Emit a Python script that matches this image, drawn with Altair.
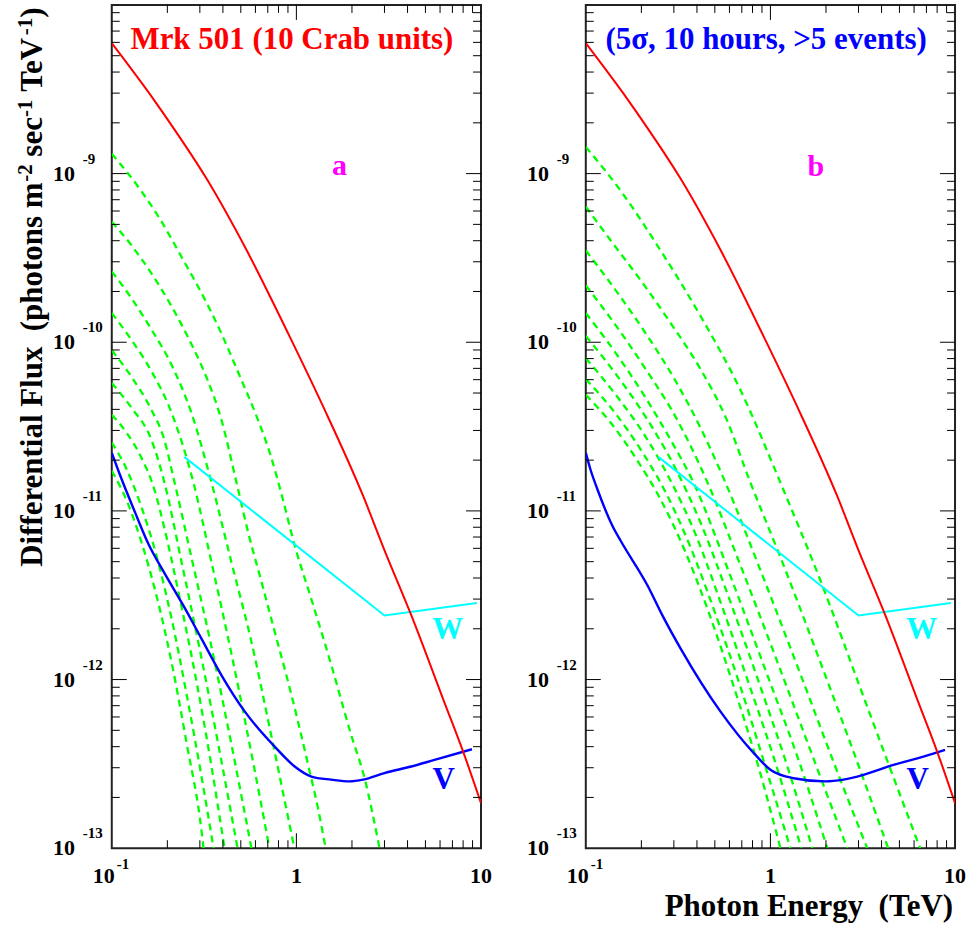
import altair as alt
import pandas as pd

FONT = "Liberation Serif"
W, H = 370, 845

# ---------------- data ----------------
red_E = [0.1, 0.171, 0.2065, 0.3266, 0.537, 0.92, 1.393, 2.296, 2.99, 4.19, 6.31, 8.0, 10]
red_F = [5.93e-9, 2.69e-9, 2.0e-9, 9.31e-10, 3.52e-10, 1.08e-10, 4.18e-11, 1.23e-11,
         5.9e-12, 2.41e-12, 7.4e-13, 3.74e-13, 1.85e-13]

cyan_E = [0.247, 3.0, 9.5]
cyan_F = [2.09e-11, 2.4e-12, 2.84e-12]

blue_a_E = [0.1, 0.1095, 0.1337, 0.158, 0.194, 0.244, 0.306, 0.393, 0.526, 0.763, 0.979,
            1.205, 1.546, 1.94, 2.30, 3.0, 4.19, 5.6, 8.93]
blue_a_F = [2.21e-11, 1.69e-11, 9.8e-12, 6.36e-12, 4.23e-12, 2.75e-12, 1.75e-12, 1.06e-12,
            6.45e-13, 4.0e-13, 3.05e-13, 2.66e-13, 2.55e-13, 2.49e-13, 2.55e-13, 2.79e-13,
            3.05e-13, 3.34e-13, 3.86e-13]

blue_b_E = [0.1, 0.106, 0.1157, 0.1393, 0.1545, 0.216, 0.26, 0.327, 0.537, 0.813,
            1.0, 1.336, 1.98, 2.49, 3.19, 4.64, 6.74, 8.83]
blue_b_F = [2.21e-11, 1.76e-11, 1.34e-11, 8.17e-12, 6.65e-12, 3.61e-12, 2.4e-12, 1.52e-12,
            6.45e-13, 3.66e-13, 2.92e-13, 2.6e-13, 2.49e-13, 2.55e-13, 2.72e-13,
            3.12e-13, 3.49e-13, 3.83e-13]

green_a_E = [
    [0.1, 0.142, 0.182, 0.244, 0.313, 0.385, 0.494, 0.608, 0.718, 0.83, 0.98, 1.205, 1.545, 1.98, 2.34, 2.82],
    [0.1, 0.128, 0.164, 0.211, 0.270, 0.327, 0.394, 0.474, 0.548, 0.648, 0.764, 0.902, 1.021, 1.157, 1.31, 1.44],
    [0.1, 0.128, 0.164, 0.211, 0.270, 0.347, 0.445, 0.571, 0.733, 0.975],
    [0.1, 0.128, 0.164, 0.211, 0.277, 0.347, 0.445, 0.571, 0.715],
    [0.1, 0.128, 0.164, 0.191, 0.219, 0.270, 0.347, 0.445, 0.571],
    [0.1, 0.128, 0.164, 0.193, 0.239, 0.307, 0.393, 0.480],
    [0.1, 0.1205, 0.145, 0.169, 0.198, 0.239, 0.288, 0.347, 0.408],
    [0.1, 0.1205, 0.145, 0.175, 0.211, 0.254, 0.307, 0.356],
    [0.1, 0.1205, 0.145, 0.175, 0.211, 0.254, 0.307, 0.314],
]
green_a_F = [
    [1.31e-9, 8.1e-10, 5.4e-10, 3.07e-10, 1.87e-10, 1.18e-10, 6.28e-11, 3.65e-11, 2.21e-11, 1.26e-11,
     6.22e-12, 3.0e-12, 1.22e-12, 4.7e-13, 2.6e-13, 1e-13],
    [5.19e-10, 3.75e-10, 2.56e-10, 1.63e-10, 9.75e-11, 6.14e-11, 3.42e-11, 1.47e-11, 7.45e-12, 3.78e-12,
     1.91e-12, 9.68e-13, 5.62e-13, 3.13e-13, 1.72e-13, 1e-13],
    [2.63e-10, 1.82e-10, 1.19e-10, 7.33e-11, 3.81e-11, 1.47e-11, 4.95e-12, 1.67e-12, 4.59e-13, 1e-13],
    [1.49e-10, 1.03e-10, 6.74e-11, 3.81e-11, 1.47e-11, 4.95e-12, 1.42e-12, 3.64e-13, 1e-13],
    [8.97e-11, 6.22e-11, 3.97e-11, 2.72e-11, 1.47e-11, 5.31e-12, 1.56e-12, 4.11e-13, 1e-13],
    [5.73e-11, 4.08e-11, 2.64e-11, 1.47e-11, 4.95e-12, 1.32e-12, 3.27e-13, 1e-13],
    [3.71e-11, 2.90e-11, 2.06e-11, 1.37e-11, 6.97e-12, 2.68e-12, 9.68e-13, 3.05e-13, 1e-13],
    [2.54e-11, 1.76e-11, 1.05e-11, 5.38e-12, 2.29e-12, 8.23e-13, 2.62e-13, 1e-13],
    [1.73e-11, 1.15e-11, 6.5e-12, 3.12e-12, 1.26e-12, 4.23e-13, 1.24e-13, 1e-13],
]

green_b_E = [
    [0.1, 0.1546, 0.2542, 0.4182, 0.688, 1.133, 1.864, 3.066, 4.454, 6.47],
    [0.1, 0.1365, 0.1983, 0.288, 0.4182, 0.571, 0.7796, 1.133, 1.864, 2.881, 4.343],
    [0.1, 0.1453, 0.211, 0.3065, 0.4182, 0.571, 0.8829, 1.453, 2.246, 3.344],
    [0.1, 0.1453, 0.211, 0.3065, 0.4566, 0.688, 1.133, 1.751, 2.608],
    [0.1, 0.1453, 0.211, 0.288, 0.3834, 0.6078, 0.9397, 1.399, 2.033],
    [0.1, 0.1453, 0.211, 0.3065, 0.4182, 0.6078, 0.8829, 1.236, 1.687],
    [0.1, 0.1453, 0.211, 0.288, 0.3932, 0.5366, 0.7325, 1.038, 1.471],
    [0.1, 0.1453, 0.1983, 0.2706, 0.3694, 0.5044, 0.688, 0.9397, 1.283],
    [0.1, 0.1365, 0.1863, 0.2542, 0.347, 0.4737, 0.6467, 0.861, 1.133],
]
green_b_F = [
    [1.44e-9, 7.9e-10, 3.5e-10, 1.43e-10, 5.21e-11, 1.47e-11, 3.88e-12, 8.93e-13, 2.97e-13, 1e-13],
    [6.37e-10, 4.01e-10, 2.33e-10, 1.30e-10, 6.93e-11, 3.61e-11, 1.47e-11, 5.31e-12, 1.27e-12, 3.5e-13, 1e-13],
    [3.5e-10, 2.03e-10, 1.13e-10, 5.89e-11, 3.11e-11, 1.47e-11, 4.45e-12, 1.08e-12, 3.05e-13, 1e-13],
    [2.17e-10, 1.26e-10, 6.93e-11, 3.61e-11, 1.47e-11, 4.76e-12, 1.14e-12, 3.18e-13, 1e-13],
    [1.49e-10, 8.63e-11, 4.68e-11, 2.64e-11, 1.47e-11, 4.1e-12, 1.14e-12, 3.5e-13, 1e-13],
    [1.09e-10, 6.49e-11, 3.61e-11, 1.78e-11, 8.53e-12, 2.88e-12, 9.06e-13, 3.05e-13, 1e-13],
    [8.05e-11, 4.88e-11, 2.75e-11, 1.51e-11, 7.26e-12, 2.88e-12, 1.08e-12, 3.5e-13, 1e-13],
    [6.05e-11, 3.76e-11, 2.31e-11, 1.29e-11, 6.08e-12, 2.44e-12, 9.06e-13, 3.05e-13, 1e-13],
    [4.88e-11, 3.33e-11, 2.06e-11, 1.17e-11, 5.68e-12, 2.34e-12, 8.45e-13, 3.05e-13, 1e-13],
]

# tick positions and labels
x_major = [1.0]
x_minor = [0.2, 0.3, 0.4, 0.5, 0.6, 0.7, 0.8, 0.9, 2, 3, 4, 5, 6, 7, 8, 9]
y_major = [1e-12, 1e-11, 1e-10, 1e-9]
y_minor = [m * 10.0 ** e for e in range(-13, -8) for m in range(2, 10)]
y_label_vals = [1e-13, 1e-12, 1e-11, 1e-10, 1e-9]
y_label_exp = ["-13", "-12", "-11", "-10", "-9"]
x_label_vals = [1.0, 10.0]
x_label_text = ["1", "10"]

# annotations (data coordinates)
title_a = {"E": 0.946, "F": 5.46e-9, "t": "Mrk 501 (10 Crab units)", "c": "#ff0000"}
title_b = {"E": 0.948, "F": 5.46e-9, "t": "(5\u03c3, 10 hours, >5 events)", "c": "#0000ff"}
letter_a = {"E": 1.71, "F": 9.84e-10, "t": "a"}
letter_b = {"E": 1.76, "F": 9.7e-10, "t": "b"}
label_W = {"E": 6.6, "F": 1.746e-12, "t": "W"}
label_V = {"E": 6.27, "F": 2.23e-13, "t": "V"}

# ---------------- helpers ----------------
xs = alt.Scale(type="log", domain=[0.1, 10], nice=False)
ys = alt.Scale(type="log", domain=[1e-13, 1e-8], nice=False)


def X():
    return alt.X("E:Q", scale=xs, axis=None)


def Y():
    return alt.Y("F:Q", scale=ys, axis=None)


def curves_df(E_lists, F_lists):
    rows = []
    for i, (es, fs) in enumerate(zip(E_lists, F_lists)):
        for e, f in zip(es, fs):
            rows.append({"E": e, "F": f, "c": i})
    return pd.DataFrame(rows)


def txt(**kw):
    base = dict(font=FONT, fontWeight="bold")
    base.update(kw)
    return base


def panel(green_E, green_F, blue_E, blue_F, head, letter, with_xtitle):
    layers = []
    layers.append(
        alt.Chart(curves_df(green_E, green_F)).mark_line(
            color="#00ff00", strokeWidth=2.3, strokeDash=[7, 5], clip=True, interpolate="monotone"
        ).encode(x=X(), y=Y(), detail="c:N")
    )
    layers.append(
        alt.Chart(pd.DataFrame({"E": cyan_E, "F": cyan_F})).mark_line(
            color="#00ffff", strokeWidth=2, clip=True).encode(x=X(), y=Y())
    )
    layers.append(
        alt.Chart(pd.DataFrame({"E": blue_E, "F": blue_F})).mark_line(
            color="#0000ff", strokeWidth=2.4, clip=True, interpolate="monotone").encode(x=X(), y=Y())
    )
    layers.append(
        alt.Chart(pd.DataFrame({"E": red_E, "F": red_F})).mark_line(
            color="#ff0000", strokeWidth=2, clip=True, interpolate="monotone").encode(x=X(), y=Y())
    )

    # inside ticks on all four sides
    dxmaj = pd.DataFrame({"E": x_major})
    dxmin = pd.DataFrame({"E": x_minor})
    dymaj = pd.DataFrame({"F": y_major})
    dymin = pd.DataFrame({"F": y_minor})
    for d, ln in ((dxmaj, 15), (dxmin, 8)):
        layers.append(alt.Chart(d).mark_rule(color="black", strokeWidth=1).encode(
            x=X(), y=alt.value(H), y2=alt.value(H - ln)))
        layers.append(alt.Chart(d).mark_rule(color="black", strokeWidth=1).encode(
            x=X(), y=alt.value(0), y2=alt.value(ln)))
    for d, ln in ((dymaj, 15), (dymin, 8)):
        layers.append(alt.Chart(d).mark_rule(color="black", strokeWidth=1).encode(
            y=Y(), x=alt.value(0), x2=alt.value(ln)))
        layers.append(alt.Chart(d).mark_rule(color="black", strokeWidth=1).encode(
            y=Y(), x=alt.value(W), x2=alt.value(W - ln)))

    # y tick labels: 10 with superscript exponent
    dyl = pd.DataFrame({"F": y_label_vals, "e": y_label_exp})
    layers.append(alt.Chart(dyl).mark_text(**txt(fontSize=22, align="right", baseline="alphabetic",
                                                 dx=-37, dy=7, color="black")).encode(
        y=Y(), x=alt.value(0), text=alt.value("10")))
    layers.append(alt.Chart(dyl).mark_text(**txt(fontSize=15, align="left", baseline="alphabetic",
                                                 dx=-29, dy=-10, color="black")).encode(
        y=Y(), x=alt.value(0), text="e:N"))

    # x tick labels
    dxl = pd.DataFrame({"E": x_label_vals, "t": x_label_text})
    layers.append(alt.Chart(dxl).mark_text(**txt(fontSize=22, align="center", baseline="alphabetic",
                                                 dy=35, color="black")).encode(
        x=X(), y=alt.value(H), text="t:N"))
    dx0 = pd.DataFrame({"E": [0.1], "t": ["10"], "e": ["-1"]})
    layers.append(alt.Chart(dx0).mark_text(**txt(fontSize=22, align="center", baseline="alphabetic",
                                                 dx=-8, dy=35, color="black")).encode(
        x=X(), y=alt.value(H), text="t:N"))
    layers.append(alt.Chart(dx0).mark_text(**txt(fontSize=15, align="left", baseline="alphabetic",
                                                 dx=5, dy=21, color="black")).encode(
        x=X(), y=alt.value(H), text="e:N"))

    # annotations
    layers.append(alt.Chart(pd.DataFrame([head])).mark_text(
        **txt(fontSize=31, align="center", baseline="alphabetic", color=head["c"])).encode(
        x=X(), y=Y(), text="t:N"))
    layers.append(alt.Chart(pd.DataFrame([letter])).mark_text(
        **txt(fontSize=30, align="center", baseline="alphabetic", color="#ff00ff")).encode(
        x=X(), y=Y(), text="t:N"))
    layers.append(alt.Chart(pd.DataFrame([label_W])).mark_text(
        **txt(fontSize=31, align="center", baseline="alphabetic", color="#00ffff")).encode(
        x=X(), y=Y(), text="t:N"))
    layers.append(alt.Chart(pd.DataFrame([label_V])).mark_text(
        **txt(fontSize=31, align="center", baseline="alphabetic", color="#0000ff")).encode(
        x=X(), y=Y(), text="t:N"))

    if with_xtitle:
        layers.append(alt.Chart(pd.DataFrame({"t": ["Photon Energy\u00a0\u00a0(TeV)"]})).mark_text(
            **txt(fontSize=31, align="right", baseline="alphabetic", color="black")).encode(
            x=alt.value(W - 2), y=alt.value(H + 68), text="t:N"))
    else:
        # y-axis title with superscripts, rotated
        pieces = [
            ("Differential Flux\u00a0\u00a0(photons m", 563, -70, 31),
            ("-2", 177.2, -80, 21),
            ("sec", 152.0, -70, 31),
            ("-1", 112.4, -80, 21),
            ("TeV", 87.1, -70, 31),
            ("-1", 30.3, -80, 21),
            (")", 12.8, -70, 31),
        ]
        for t, yy, xx, fs in pieces:
            layers.append(alt.Chart(pd.DataFrame({"t": [t]})).mark_text(
                **txt(fontSize=fs, align="left", baseline="alphabetic", angle=270, color="black")).encode(
                x=alt.value(xx), y=alt.value(yy), text="t:N"))

    return alt.layer(*layers).properties(width=W, height=H)


left = panel(green_a_E, green_a_F, blue_a_E, blue_a_F, title_a, letter_a, False)
right = panel(green_b_E, green_b_F, blue_b_E, blue_b_F, title_b, letter_b, True)

chart = alt.hconcat(left, right, spacing=105, bounds="flush",
                    padding={"left": 13, "top": 2, "right": 0, "bottom": 0}
                    ).configure_view(stroke="#222222", strokeWidth=2)

chart.save("out.html", embed_options={"renderer": "svg", "actions": False})
